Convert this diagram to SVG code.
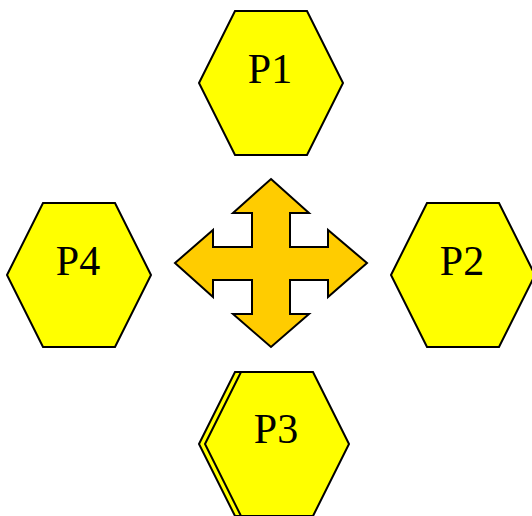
<svg xmlns="http://www.w3.org/2000/svg" xmlns:xlink="http://www.w3.org/1999/xlink" width="532" height="516" viewBox="0 0 532 516">
<style>
.hex{fill:#FFFF00;stroke:#000;stroke-width:2;stroke-linejoin:miter}
.lbl{font-family:"Liberation Serif","Times New Roman",serif;font-size:42px;fill:#000;text-anchor:middle}
.cross{fill:#FFCC00;stroke:#000;stroke-width:2}
</style>
<defs>
<polygon id="hexshape" points="-72,0 -36,-72 36,-72 72,0 36,72 -36,72"/>
</defs>
<rect width="532" height="516" fill="#fff"/>
<g id="connectors">
<path id="cross" class="cross" d="M271,179 L309,213 L290,213 L290,247 L328,247 L328,230 L367,263 L328,297 L328,280 L290,280 L290,314 L309,314 L271,347 L233,314 L252,314 L252,280 L213,280 L213,297 L175,263 L213,230 L213,247 L252,247 L252,213 L233,213 Z"/>
</g>
<g id="P1">
<use href="#hexshape" class="hex" x="271" y="83"/>
<text class="lbl" x="270" y="83">P1</text>
</g>
<g id="P2">
<use href="#hexshape" class="hex" x="463" y="275"/>
<text class="lbl" x="462" y="275">P2</text>
</g>
<g id="P3">
<use href="#hexshape" class="hex" x="271" y="444"/>
<use href="#hexshape" class="hex" x="277" y="444"/>
<text class="lbl" x="276" y="443">P3</text>
</g>
<g id="P4">
<use href="#hexshape" class="hex" x="79" y="275"/>
<text class="lbl" x="78" y="275">P4</text>
</g>
</svg>
